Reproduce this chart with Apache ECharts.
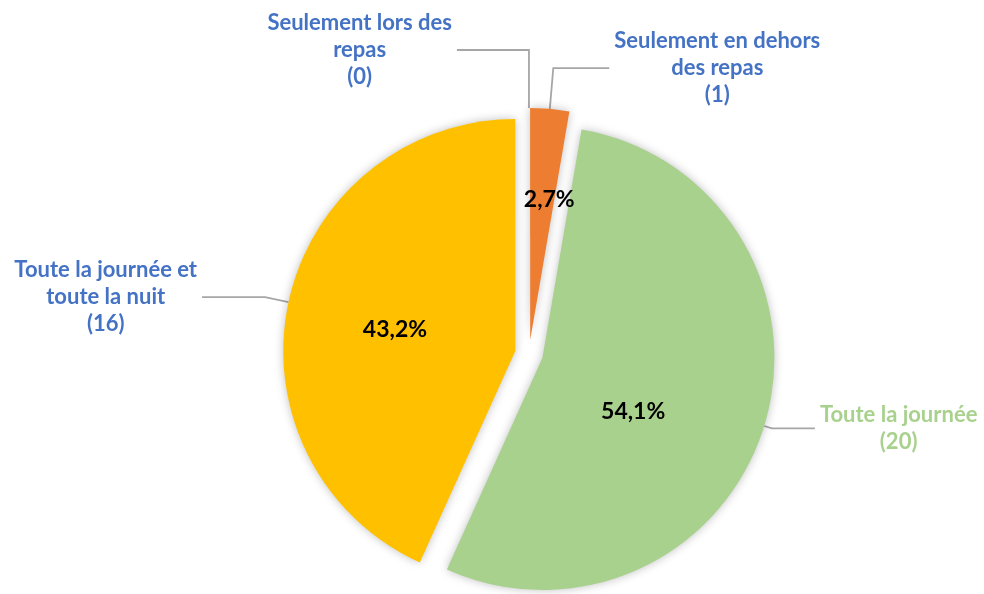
<!DOCTYPE html>
<html>
<head>
<meta charset="utf-8">
<script src="https://cdn.jsdelivr.net/npm/echarts@6/dist/echarts.min.js"></script>
<style>
  html, body { margin: 0; padding: 0; background: #fff; }
  #chart { width: 984px; height: 594px; }
</style>
</head>
<body>
<div id="chart"></div>
<script>
// données
var categories = ['Seulement lors des\nrepas', 'Seulement en dehors\ndes repas', 'Toute la journée', 'Toute la journée et\ntoute la nuit'];
var counts = [0, 1, 20, 16];
var sliceColors = ['#5B9BD5', '#ED7D31', '#A9D18E', '#FFC000'];
var labelColors = ['#4472C4', '#4472C4', '#A9D18E', '#4472C4'];

// longueurs des traits de rappel [length, length2]
var lineLens = [[58, 72], [41, 56], [8, 43], [24, 63]];
// petit décalage des pourcentages
var innerShift = [[0, 0], [9, -22], [-23, 19], [-4, 4]];

var chart = echarts.init(document.getElementById('chart'));

function richLabel(name, value) {
  return name.split('\n').concat('(' + value + ')').map(function (l) {
    return '{a|' + l + '}';
  }).join('\n');
}

var outerData = categories.map(function (name, i) {
  return {
    name: name,
    value: counts[i],
    selected: true,
    itemStyle: { color: sliceColors[i] },
    label: {
      color: labelColors[i],
      rich: {
        a: {
          align: 'center',
          color: labelColors[i],
          fontFamily: 'Lato',
          fontWeight: 'bold',
          fontSize: 22,
          lineHeight: 27
        }
      }
    },
    labelLine: { length: lineLens[i][0], length2: lineLens[i][1] }
  };
});
var innerData = categories.map(function (name, i) {
  return { name: name, value: counts[i], selected: true };
});

var common = {
  type: 'pie',
  center: [529, 354],
  radius: [0, 232],
  startAngle: 90.01,
  clockwise: true,
  selectedMode: 'multiple',
  selectedOffset: 14,
  animation: false,
  silent: true,
  percentPrecision: 1
};

chart.setOption({
  backgroundColor: '#ffffff',
  series: [
    Object.assign({}, common, {
      name: 'parts',
      z: 2,
      itemStyle: {
        borderWidth: 0,
        shadowBlur: 10,
        shadowColor: 'rgba(0,0,0,0.25)'
      },
      select: { itemStyle: { borderWidth: 0 } },
      label: {
        show: true,
        position: 'outside',
        alignTo: 'none',
        distanceToLabelLine: 5,
        fontFamily: 'Lato',
        fontWeight: 'bold',
        fontSize: 22,
        lineHeight: 27,
        formatter: function (p) { return richLabel(p.name, p.value); }
      },
      labelLine: {
        show: true,
        lineStyle: { color: '#A6A6A6', width: 1.8 }
      },
      data: outerData
    }),
    Object.assign({}, common, {
      name: 'pourcentages',
      z: 3,
      itemStyle: { color: 'rgba(0,0,0,0)', borderWidth: 0 },
      select: { itemStyle: { color: 'rgba(0,0,0,0)', borderWidth: 0 } },
      label: {
        show: true,
        position: 'inside',
        fontFamily: 'Lato',
        fontWeight: 'bold',
        fontSize: 23,
        color: '#000000',
        formatter: function (p) {
          if (!p.value) return '';
          return p.percent.toFixed(1).replace('.', ',') + '%';
        }
      },
      labelLine: { show: false },
      labelLayout: function (p) {
        var d = innerShift[p.dataIndex];
        return { dx: d[0], dy: d[1] };
      },
      data: innerData
    })
  ]
});
</script>
</body>
</html>
